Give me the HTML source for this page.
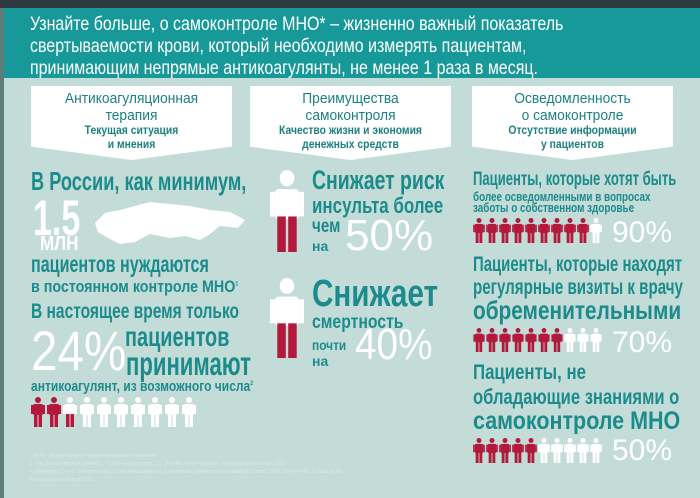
<!DOCTYPE html>
<html><head><meta charset="utf-8"><style>
*{margin:0;padding:0;box-sizing:border-box}
body{width:700px;height:498px;overflow:hidden;background:#c3dcd7;font-family:"Liberation Sans Narrow","Liberation Sans",sans-serif;position:relative}
.a{position:absolute;white-space:nowrap;line-height:1;transform-origin:0 0}
.t{color:#1c8b8c;font-weight:bold}
.w{color:#fff}
.box{position:absolute;top:86px;height:74px;background:#fff;text-align:center;clip-path:polygon(0 0,100% 0,100% 82%,50% 100%,0 82%)}
.box .h{font-size:15px;color:#1c7f80;line-height:17px;margin-top:4px;transform:scaleX(0.92)}
.box .s{font-size:11.5px;color:#1c7f80;font-weight:bold;line-height:14px;transform:scaleX(0.9)}
svg.f{position:absolute}
</style></head><body>
<svg width="0" height="0" style="position:absolute">
<defs>
<symbol id="pr" viewBox="0 0 14 30"><circle cx="7" cy="3" r="3" fill="#b3193b"/><rect x="2" y="7" width="10" height="11" rx="1.5" fill="#b3193b"/><rect x="0" y="8" width="2" height="9" fill="#b3193b"/><rect x="12" y="8" width="2" height="9" fill="#b3193b"/><rect x="3" y="17" width="3.5" height="13" fill="#b3193b"/><rect x="7.5" y="17" width="3.5" height="13" fill="#b3193b"/></symbol>
<symbol id="pw" viewBox="0 0 14 30"><circle cx="7" cy="3" r="3" fill="#fff"/><rect x="2" y="7" width="10" height="11" rx="1.5" fill="#fff"/><rect x="0" y="8" width="2" height="9" fill="#fff"/><rect x="12" y="8" width="2" height="9" fill="#fff"/><rect x="3" y="17" width="3.5" height="13" fill="#fff"/><rect x="7.5" y="17" width="3.5" height="13" fill="#fff"/></symbol>
<symbol id="ph" viewBox="0 0 14 30"><circle cx="7" cy="3" r="3" fill="#fff"/><rect x="2" y="7" width="10" height="11" rx="1.5" fill="#fff"/><rect x="0" y="8" width="2" height="9" fill="#fff"/><rect x="12" y="8" width="2" height="9" fill="#fff"/><rect x="3" y="17" width="3.5" height="13" fill="#b3193b"/><rect x="7.5" y="17" width="3.5" height="13" fill="#b3193b"/></symbol>
</defs></svg>
<div style="position:absolute;left:0;top:0;width:700px;height:8px;background:#2d3b40"></div>
<div style="position:absolute;left:0;top:8px;width:700px;height:70px;background:#17999a"></div>
<div style="position:absolute;left:0;top:8px;width:4px;height:490px;background:#5d7d7b"></div>
<div class="a w" style="left:30px;top:13px;font-size:19.5px;line-height:22px;transform:scaleX(0.82)">Узнайте больше, о самоконтроле МНО* – жизненно важный показатель<br>свертываемости крови, который необходимо измерять пациентам,<br>принимающим непрямые антикоагулянты, не менее 1 раза в месяц.</div>

<div class="box" style="left:31px;width:201px"><div class="h">Антикоагуляционная<br>терапия</div><div class="s">Текущая ситуация<br>и мнения</div></div>
<div class="box" style="left:250px;width:201px"><div class="h">Преимущества<br>самоконтроля</div><div class="s">Качество жизни и экономия<br>денежных средств</div></div>
<div class="box" style="left:472px;width:201px"><div class="h">Осведомленность<br>о самоконтроле</div><div class="s">Отсутствие информации<br>у пациентов</div></div>

<!-- left -->
<div class="a t" style="left:31px;top:168px;font-size:26px;transform:scaleX(0.7)">В России, как минимум,</div>
<div class="a w" style="left:33px;top:193px;font-size:50px;font-weight:bold;transform:scaleX(0.68)">1.5</div>
<div class="a w" style="left:40px;top:234px;font-size:20px;font-weight:bold;transform:scaleX(0.85)">МЛН</div>
<svg class="f" style="left:90px;top:198px" width="160" height="50" viewBox="0 0 160 50"><path d="M5 25 L15 15 L30 12 L45 8 L60 4 L80 6 L100 8 L120 12 L140 14 L155 22 L148 30 L130 28 L120 36 L110 42 L95 38 L80 40 L60 36 L45 44 L30 46 L18 40 L8 34 Z" fill="#fff"/></svg>
<div class="a t" style="left:31px;top:253px;font-size:23px;transform:scaleX(0.7)">пациентов нуждаются</div>
<div class="a t" style="left:31px;top:278px;font-size:17px;transform:scaleX(0.84)">в постоянном контроле МНО<sup style="font-size:6px">1</sup></div>
<div class="a t" style="left:31px;top:301px;font-size:21px;transform:scaleX(0.74)">В настоящее время только</div>
<div class="a w" style="left:31px;top:323px;font-size:56px;transform:scaleX(0.85)">24%</div>
<div class="a t" style="left:125px;top:323px;font-size:28px;transform:scaleX(0.71)">пациентов</div>
<div class="a t" style="left:126px;top:347px;font-size:33px;transform:scaleX(0.67)">принимают</div>
<div class="a t" style="left:31px;top:380px;font-size:14.5px;transform:scaleX(0.83)">антикоагулянт, из возможного числа<sup style="font-size:6px">2</sup></div>
<svg class="f" style="left:31px;top:397px" width="170" height="32"><use href="#pr" x="0" width="14" height="30"/><use href="#pr" x="16" width="14" height="30"/><use href="#ph" x="32" width="14" height="30"/><use href="#pw" x="49" width="14" height="30"/><use href="#pw" x="66" width="14" height="30"/><use href="#pw" x="83" width="14" height="30"/><use href="#pw" x="100" width="14" height="30"/><use href="#pw" x="117" width="14" height="30"/><use href="#pw" x="134" width="14" height="30"/><use href="#pw" x="151" width="14" height="30"/></svg>
<div class="a" style="left:30px;top:452px;font-size:5px;color:#d6e9e6;line-height:8px">* МНО - международное нормализованное отношение<br>1. http://www.minzdrav.ru/news ... 2. Данные регистра ... 3. Stop the Atrial Fibrillation, Anticoagulation Europe 2011<br>4. Heneghan C et al. Self-monitoring of oral anticoagulation: a systematic review and meta-analysis. Lancet 2006;367:404-411. 5. Data on file<br>Anticoagulation Europe 2011</div>

<!-- middle -->
<svg class="f" style="left:270px;top:170px" width="34" height="82" viewBox="0 0 14 30" preserveAspectRatio="none"><use href="#ph"/></svg>
<div class="a t" style="left:312px;top:167px;font-size:27px;transform:scaleX(0.72)">Снижает риск</div>
<div class="a t" style="left:312px;top:195px;font-size:22px;transform:scaleX(0.77)">инсульта более</div>
<div class="a t" style="left:312px;top:217px;font-size:19px;transform:scaleX(0.8)">чем</div>
<div class="a t" style="left:312px;top:239px;font-size:14px">на</div>
<div class="a w" style="left:345px;top:214px;font-size:44px">50%</div>
<svg class="f" style="left:270px;top:278px" width="34" height="80" viewBox="0 0 14 30" preserveAspectRatio="none"><use href="#ph"/></svg>
<div class="a t" style="left:312px;top:275px;font-size:38px;transform:scaleX(0.78)">Снижает</div>
<div class="a t" style="left:312px;top:313px;font-size:19px;transform:scaleX(0.83)">смертность</div>
<div class="a t" style="left:312px;top:338px;font-size:14px;transform:scaleX(0.85)">почти</div>
<div class="a t" style="left:312px;top:354px;font-size:14px">на</div>
<div class="a w" style="left:355px;top:323px;font-size:44px;transform:scaleX(0.88)">40%</div>

<!-- right -->
<div class="a t" style="left:473px;top:170px;font-size:19.5px;transform:scaleX(0.67)">Пациенты, которые хотят быть</div>
<div class="a t" style="left:473px;top:190px;font-size:13px;transform:scaleX(0.76)">более осведомленными в вопросах</div>
<div class="a t" style="left:473px;top:201px;font-size:13px;transform:scaleX(0.76)">заботы о собственном здоровье</div>
<svg class="f" style="left:473px;top:218px" width="135" height="26">
<use href="#pr" x="0" width="12" height="25"/><use href="#pr" x="13" width="12" height="25"/><use href="#pr" x="26" width="12" height="25"/><use href="#pr" x="39" width="12" height="25"/><use href="#pr" x="52" width="12" height="25"/><use href="#pr" x="65" width="12" height="25"/><use href="#pr" x="78" width="12" height="25"/><use href="#pr" x="91" width="12" height="25"/><use href="#pr" x="104" width="12" height="25"/><use href="#pw" x="117" width="12" height="25"/></svg>
<div class="a w" style="left:612px;top:218px;font-size:30px">90%</div>
<div class="a t" style="left:473px;top:254px;font-size:21px;transform:scaleX(0.71)">Пациенты, которые находят</div>
<div class="a t" style="left:473px;top:277px;font-size:21px;transform:scaleX(0.72)">регулярные визиты к врачу</div>
<div class="a t" style="left:473px;top:297px;font-size:26px;transform:scaleX(0.8)">обременительными</div>
<svg class="f" style="left:473px;top:328px" width="135" height="26">
<use href="#pr" x="0" width="12" height="24"/><use href="#pr" x="13" width="12" height="24"/><use href="#pr" x="26" width="12" height="24"/><use href="#pr" x="39" width="12" height="24"/><use href="#pr" x="52" width="12" height="24"/><use href="#pr" x="65" width="12" height="24"/><use href="#pr" x="78" width="12" height="24"/><use href="#pw" x="91" width="12" height="24"/><use href="#pw" x="104" width="12" height="24"/><use href="#pw" x="117" width="12" height="24"/></svg>
<div class="a w" style="left:612px;top:328px;font-size:30px">70%</div>
<div class="a t" style="left:473px;top:362px;font-size:21px;transform:scaleX(0.8)">Пациенты, не</div>
<div class="a t" style="left:473px;top:387px;font-size:21px;transform:scaleX(0.79)">обладающие знаниями о</div>
<div class="a t" style="left:473px;top:409px;font-size:25px;transform:scaleX(0.86)">самоконтроле МНО</div>
<svg class="f" style="left:473px;top:438px" width="135" height="26">
<use href="#pr" x="0" width="12" height="25"/><use href="#pr" x="13" width="12" height="25"/><use href="#pr" x="26" width="12" height="25"/><use href="#pr" x="39" width="12" height="25"/><use href="#pr" x="52" width="12" height="25"/><use href="#pw" x="65" width="12" height="25"/><use href="#pw" x="78" width="12" height="25"/><use href="#pw" x="91" width="12" height="25"/><use href="#pw" x="104" width="12" height="25"/><use href="#pw" x="117" width="12" height="25"/></svg>
<div class="a w" style="left:612px;top:436px;font-size:30px">50%</div>
</body></html>
